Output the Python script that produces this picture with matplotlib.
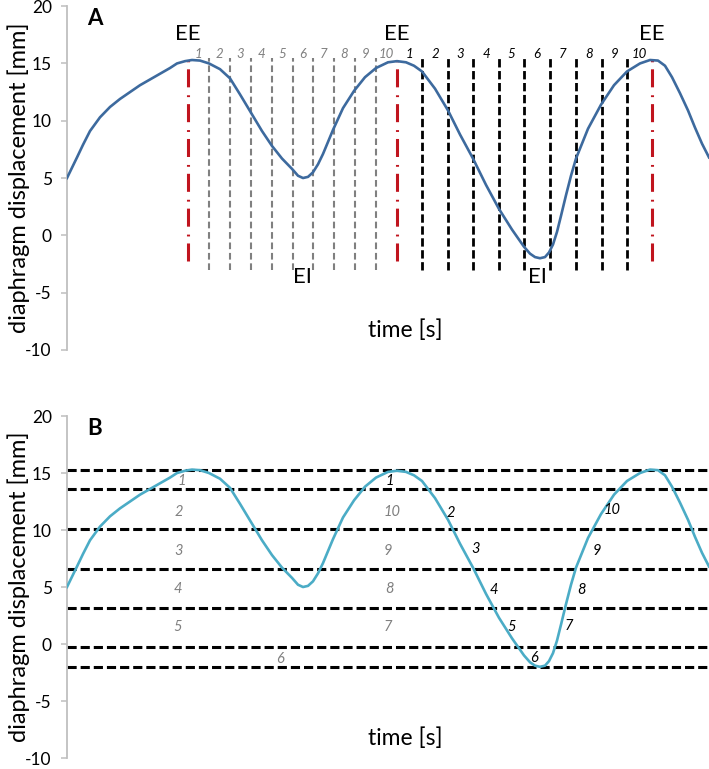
import matplotlib.pyplot as plt

plt.rcParams['font.family'] = ['Lato', 'DejaVu Sans']
plt.rcParams['axes.unicode_minus'] = False

# breathing trace (same trace in both panels)
time_s = [0.00, 0.05, 0.10, 0.16, 0.23, 0.33, 0.43, 0.53, 0.63, 0.73, 0.83, 0.93, 1.03,
          1.10, 1.18, 1.25, 1.33, 1.42, 1.53, 1.63, 1.73, 1.84, 1.95, 2.05, 2.15, 2.25,
          2.31, 2.36, 2.41, 2.46, 2.51, 2.56, 2.66, 2.76, 2.87, 2.98, 3.09, 3.21, 3.30,
          3.39, 3.47, 3.55, 3.68, 3.81, 3.93, 4.06, 4.19, 4.32, 4.45, 4.57, 4.63, 4.68,
          4.73, 4.78, 4.82, 4.86, 4.90, 4.94, 4.99, 5.04, 5.09, 5.21, 5.34, 5.47, 5.60,
          5.73, 5.83, 5.91, 5.98, 6.05, 6.13, 6.21, 6.28, 6.35, 6.42]
displacement_mm = [5.0, 5.9, 6.8, 7.9, 9.1, 10.3, 11.2, 11.9, 12.5, 13.1, 13.6, 14.1, 14.6,
                   15.0, 15.2, 15.3, 15.25, 15.0, 14.5, 13.7, 12.3, 10.7, 9.1, 7.8, 6.7, 5.8,
                   5.2, 5.0, 5.1, 5.5, 6.2, 7.1, 9.2, 11.1, 12.6, 13.8, 14.6, 15.1, 15.2,
                   15.1, 14.8, 14.3, 12.8, 10.9, 8.8, 6.7, 4.4, 2.3, 0.5, -1.0, -1.6, -1.9,
                   -2.0, -1.9, -1.5, -0.8, 0.3, 1.7, 3.5, 5.2, 6.7, 9.3, 11.4, 13.1, 14.3,
                   15.0, 15.3, 15.25, 14.8, 13.8, 12.4, 10.9, 9.4, 8.0, 6.8]

# panel A: phase boundaries in time
ee_times = [1.21, 3.30, 5.85]
ei_times = [2.35, 4.70]
gray_bounds = [1.42, 1.63, 1.84, 2.05, 2.26, 2.46, 2.67, 2.88, 3.09]
black_bounds = [3.55, 3.81, 4.06, 4.32, 4.57, 4.83, 5.09, 5.35, 5.60]
phase_labels = ['1', '2', '3', '4', '5', '6', '7', '8', '9', '10']

# panel B: amplitude bin boundaries
amp_levels = [15.3, 13.6, 10.1, 6.6, 3.2, -0.25, -2.0]
gray_lab_x = [1.15, 1.12, 1.12, 1.11, 1.11, 2.13, 3.21, 3.22, 3.21, 3.25]
gray_lab_y = [14.3, 11.6, 8.2, 4.8, 1.5, -1.3, 1.5, 4.8, 8.2, 11.6]
black_lab_x = [3.23, 3.84, 4.09, 4.27, 4.45, 4.67, 5.02, 5.14, 5.30, 5.45]
black_lab_y = [14.3, 11.5, 8.3, 4.7, 1.5, -1.2, 1.6, 4.7, 8.2, 11.8]

GRAY = '#808080'
RED = '#c0141e'

fig = plt.figure(figsize=(7.09, 7.69), dpi=100)
axA = fig.add_axes([0.0945, 0.545, 0.9055, 0.447])
axB = fig.add_axes([0.0945, 0.0143, 0.9055, 0.4447])


def style_axis(ax, letter):
    ax.set_xlim(0, 6.42)
    ax.set_ylim(-10, 20)
    ax.set_yticks([-10, -5, 0, 5, 10, 15, 20])
    ax.set_xticks([])
    for s in ['top', 'right', 'bottom']:
        ax.spines[s].set_visible(False)
    ax.spines['left'].set_color('#bfbfbf')
    ax.spines['left'].set_linewidth(1.3)
    ax.tick_params(axis='y', length=4, width=1.1, color='#bfbfbf', labelsize=12.5, pad=7)
    ax.set_ylabel('diaphragm displacement [mm]', fontsize=17)
    ax.yaxis.set_label_coords(-0.058, 0.5)
    ax.text(3.38, -8.3, 'time [s]', fontsize=16.5, ha='center', va='center')
    ax.text(0.28, 18.9, letter, fontsize=16, fontweight='bold', ha='center', va='center')


# ---- panel A ----
style_axis(axA, 'A')
for t in gray_bounds:
    axA.plot([t, t], [-3.05, 15.5], color=GRAY, lw=1.5, linestyle=(0, (3.2, 1.8)))
for t in black_bounds:
    axA.plot([t, t], [-3.05, 15.5], color='black', lw=2.0, linestyle=(0, (3.0, 1.3)))
for t in ee_times:
    axA.plot([t, t], [-2.2, 15.5], color=RED, lw=2.2, linestyle=(0, (5.9, 2.3, 0.6, 2.6)))
    axA.text(t, 17.6, 'EE', fontsize=16, ha='center', va='center')
for t in ei_times:
    axA.text(t, -3.6, 'EI', fontsize=16, ha='center', va='center')

axA.plot(time_s, displacement_mm, color='#3d6a9e', lw=1.9, zorder=5)

gb = [ee_times[0]] + gray_bounds + [ee_times[1]]
bb = [ee_times[1]] + black_bounds + [ee_times[2]]
for i, lab in enumerate(phase_labels):
    axA.text((gb[i] + gb[i + 1]) / 2, 15.8, lab, fontsize=9.5, style='italic',
             color=GRAY, ha='center', va='center', zorder=6)
    axA.text((bb[i] + bb[i + 1]) / 2, 15.8, lab, fontsize=9.5, style='italic',
             color='black', ha='center', va='center', zorder=6)

# ---- panel B ----
style_axis(axB, 'B')
for lv in amp_levels:
    axB.axhline(lv, color='black', lw=2.2, linestyle=(0, (3.0, 1.3)))
axB.plot(time_s, displacement_mm, color='#4bacc6', lw=1.9, zorder=5)
for i, lab in enumerate(phase_labels):
    axB.text(gray_lab_x[i], gray_lab_y[i], lab, fontsize=10.5, style='italic',
             color=GRAY, ha='center', va='center', zorder=6)
    axB.text(black_lab_x[i], black_lab_y[i], lab, fontsize=10.5, style='italic',
             color='black', ha='center', va='center', zorder=6)

fig.savefig('out.png', dpi=100)
